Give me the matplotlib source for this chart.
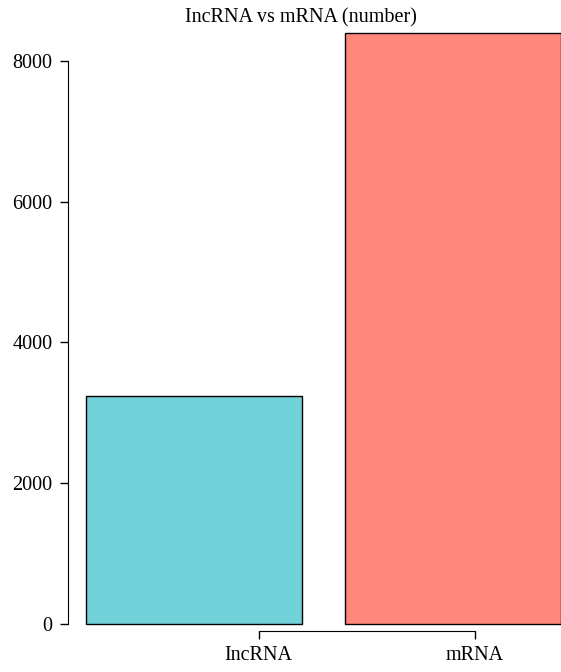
import matplotlib
matplotlib.use('Agg')
import matplotlib.pyplot as plt

categories = ['IncRNA', 'mRNA']
counts = [3240, 8400]
bar_colors = ['#70d2d8', '#ff887a']
yticks = [0, 2000, 4000, 6000, 8000]

plt.rcParams['font.family'] = ['Liberation Serif', 'DejaVu Serif']

W, H = 561, 672
fig = plt.figure(figsize=(W / 100, H / 100), dpi=100)
ax = fig.add_axes([0, 0, 1, 1])

# pixel -> data mapping (bar width 1 == 216 px, 1000 units == 70.4 px)
px_x = 216.0
px_y = 70.4 / 1000
x0_px, y0_px = 86, 624
ax.set_xlim((0 - x0_px) / px_x, (W - x0_px) / px_x)
ax.set_ylim(-(H - y0_px) / px_y, y0_px / px_y)

lefts = [0, 1.2]
ax.bar(lefts, counts, width=1.0, align='edge', color=bar_colors,
       edgecolor='black', linewidth=1.0)

ax.spines['top'].set_visible(False)
ax.spines['right'].set_visible(False)
ax.spines['left'].set_position(('data', (68 - x0_px) / px_x))
ax.spines['left'].set_bounds(0, 8000)
ax.spines['bottom'].set_position(('data', -(631 - y0_px) / px_y))
ax.spines['bottom'].set_bounds(0.8, 1.8)

ax.set_yticks(yticks)
ax.set_yticklabels([str(v) for v in yticks])
ax.set_xticks([0.8, 1.8])
ax.set_xticklabels(categories)
ax.tick_params(axis='both', direction='out', length=6, width=1, labelsize=14.5, pad=5)

ax.set_title('IncRNA vs mRNA (number)', fontsize=14.5, y=1, pad=0)
ax.title.set_position((0.537, 1 - 22 / H))
ax.title.set_va('baseline')

fig.savefig('out.png', dpi=100)
